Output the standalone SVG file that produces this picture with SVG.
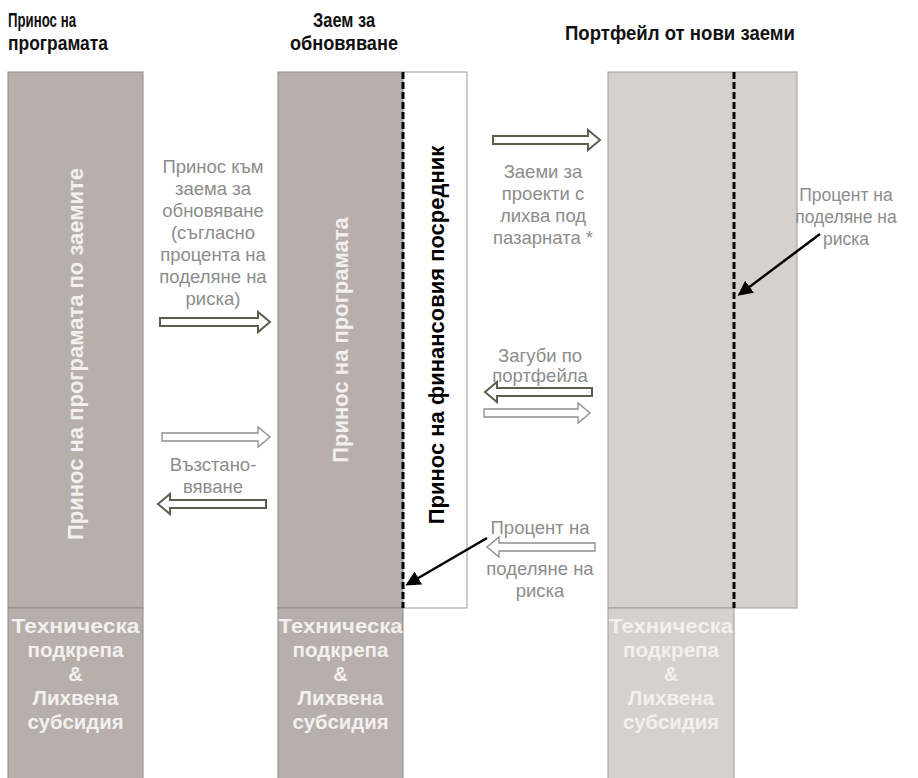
<svg xmlns="http://www.w3.org/2000/svg" width="918" height="778" viewBox="0 0 918 778">
<style>
.head{font-family:"Liberation Sans",Arial,sans-serif;font-weight:bold;font-size:20px;fill:#111}
.lbl{font-family:"Liberation Sans",Arial,sans-serif;font-size:18.5px;fill:#8c8c8c;text-anchor:middle}
.lbs{font-family:"Liberation Sans",Arial,sans-serif;font-size:17.5px;fill:#8c8c8c;text-anchor:middle}
.vt{font-family:"Liberation Sans",Arial,sans-serif;font-weight:bold;font-size:22px;text-anchor:middle}
.bt{font-family:"Liberation Sans",Arial,sans-serif;font-weight:bold;font-size:20px;fill:#f3f0ef;text-anchor:middle}
.dark{fill:#b6afab;stroke:#8f8985;stroke-width:1}
.light{fill:#d7d1ce;stroke:#a39d9a;stroke-width:1}
.dash{stroke:#000;stroke-width:3;stroke-dasharray:7 3;fill:none}
.ha{fill:#fff;stroke:#5d5e4c;stroke-width:2}
.la{fill:#fff;stroke:#8e8e8e;stroke-width:1.3}
.ptr{stroke:#000;stroke-width:2.5;fill:none;marker-end:url(#ah)}
</style>
<defs>
<marker id="ah" viewBox="0 0 10 10" refX="8" refY="5" markerWidth="6" markerHeight="6" orient="auto" markerUnits="strokeWidth">
<path d="M0 0 L10 5 L0 10 Z" fill="#000"/>
</marker>
</defs>
<rect width="918" height="778" fill="#fff"/>
<g id="headers">
<text class="head" x="8" y="27" textLength="68" lengthAdjust="spacingAndGlyphs">Принос на</text>
<text class="head" x="8" y="50" textLength="100" lengthAdjust="spacingAndGlyphs">програмата</text>
<text class="head" x="344" y="27" text-anchor="middle" textLength="62" lengthAdjust="spacingAndGlyphs">Заем за</text>
<text class="head" x="344" y="50" text-anchor="middle" textLength="108" lengthAdjust="spacingAndGlyphs">обновяване</text>
<text class="head" x="680" y="40" text-anchor="middle" textLength="230" lengthAdjust="spacingAndGlyphs">Портфейл от нови заеми</text>
</g>
<g id="program-contribution">
<rect class="dark" x="8" y="72" width="135" height="536"/>
<text class="vt" fill="#f3f0ef" font-size="23.5" transform="translate(83,354) rotate(-90)">Принос на програмата по заемите</text>
</g>
<g id="renewal-loan">
<rect class="dark" x="278" y="72" width="125" height="536"/>
<rect x="403" y="72" width="64" height="536" fill="#fff" stroke="#999" stroke-width="1"/>
<text class="vt" fill="#f3f0ef" transform="translate(348,340) rotate(-90)">Принос на програмата</text>
<text class="vt" fill="#000" transform="translate(444,335) rotate(-90)">Принос на финансовия посредник</text>
</g>
<g id="portfolio">
<rect class="light" x="608" y="72" width="189" height="536"/>
</g>
<g id="ta-left">
<rect class="dark" x="8" y="608" width="135" height="172" fill="#bcb5b1"/>
<text class="bt" x="75.5" y="633" textLength="128" lengthAdjust="spacingAndGlyphs">Техническа</text>
<text class="bt" x="75.5" y="657" textLength="96" lengthAdjust="spacingAndGlyphs">подкрепа</text>
<text class="bt" x="75.5" y="681">&amp;</text>
<text class="bt" x="75.5" y="705" textLength="86" lengthAdjust="spacingAndGlyphs">Лихвена</text>
<text class="bt" x="75.5" y="729" textLength="96" lengthAdjust="spacingAndGlyphs">субсидия</text>
</g>
<g id="ta-middle">
<rect class="dark" x="278" y="608" width="125" height="172" fill="#bcb5b1"/>
<text class="bt" x="340.5" y="633" textLength="124" lengthAdjust="spacingAndGlyphs">Техническа</text>
<text class="bt" x="340.5" y="657" textLength="96" lengthAdjust="spacingAndGlyphs">подкрепа</text>
<text class="bt" x="340.5" y="681">&amp;</text>
<text class="bt" x="340.5" y="705" textLength="86" lengthAdjust="spacingAndGlyphs">Лихвена</text>
<text class="bt" x="340.5" y="729" textLength="96" lengthAdjust="spacingAndGlyphs">субсидия</text>
</g>
<g id="ta-right">
<rect class="light" x="608" y="608" width="126" height="172"/>
<text class="bt" x="671" y="633" textLength="124" lengthAdjust="spacingAndGlyphs">Техническа</text>
<text class="bt" x="671" y="657" textLength="96" lengthAdjust="spacingAndGlyphs">подкрепа</text>
<text class="bt" x="671" y="681">&amp;</text>
<text class="bt" x="671" y="705" textLength="86" lengthAdjust="spacingAndGlyphs">Лихвена</text>
<text class="bt" x="671" y="729" textLength="96" lengthAdjust="spacingAndGlyphs">субсидия</text>
</g>
<g id="labels">
<text class="lbl" x="213" y="173">Принос към</text>
<text class="lbl" x="213" y="195">заема за</text>
<text class="lbl" x="213" y="217">обновяване</text>
<text class="lbl" x="213" y="239">(съгласно</text>
<text class="lbl" x="213" y="261">процента на</text>
<text class="lbl" x="213" y="283">поделяне на</text>
<text class="lbl" x="213" y="305">риска)</text>
<text class="lbl" x="213" y="471">Възстано-</text>
<text class="lbl" x="213" y="493">вяване</text>
<text class="lbl" x="543" y="178">Заеми за</text>
<text class="lbl" x="543" y="200">проекти с</text>
<text class="lbl" x="543" y="222">лихва под</text>
<text class="lbl" x="543" y="244">пазарната *</text>
<text class="lbl" x="540" y="362">Загуби по</text>
<text class="lbl" x="540" y="382">портфейла</text>
<text class="lbl" x="540" y="534">Процент на</text>
<text class="lbl" x="540" y="575">поделяне на</text>
<text class="lbl" x="540" y="597">риска</text>
<text class="lbs" x="846" y="201">Процент на</text>
<text class="lbs" x="846" y="223">поделяне на</text>
<text class="lbs" x="846" y="245">риска</text>
</g>
<g id="connectors">
<line class="dash" x1="403" y1="72" x2="403" y2="608"/>
<line class="dash" x1="734" y1="72" x2="734" y2="608"/>
<path class="ha" d="M160 318 H258 V312 L270 322 L258 332 V326 H160 Z"/>
<path class="la" d="M162 433 H258 V427 L270 437 L258 447 V441 H162 Z"/>
<path class="ha" d="M266 500 H170 V494 L158 504 L170 514 V508 H266 Z"/>
<path class="ha" d="M493 136 H588 V130 L600 140 L588 150 V144 H493 Z"/>
<path class="ha" d="M592 388 H497 V382 L485 392 L497 402 V396 H592 Z"/>
<path class="la" d="M484 409 H578 V403 L590 413 L578 423 V417 H484 Z"/>
<path class="la" d="M595 543 H499 V537 L487 547 L499 557 V551 H595 Z"/>
<line class="ptr" x1="487" y1="538" x2="408" y2="584"/>
<line class="ptr" x1="820" y1="234" x2="740" y2="294"/>
</g>
</svg>
